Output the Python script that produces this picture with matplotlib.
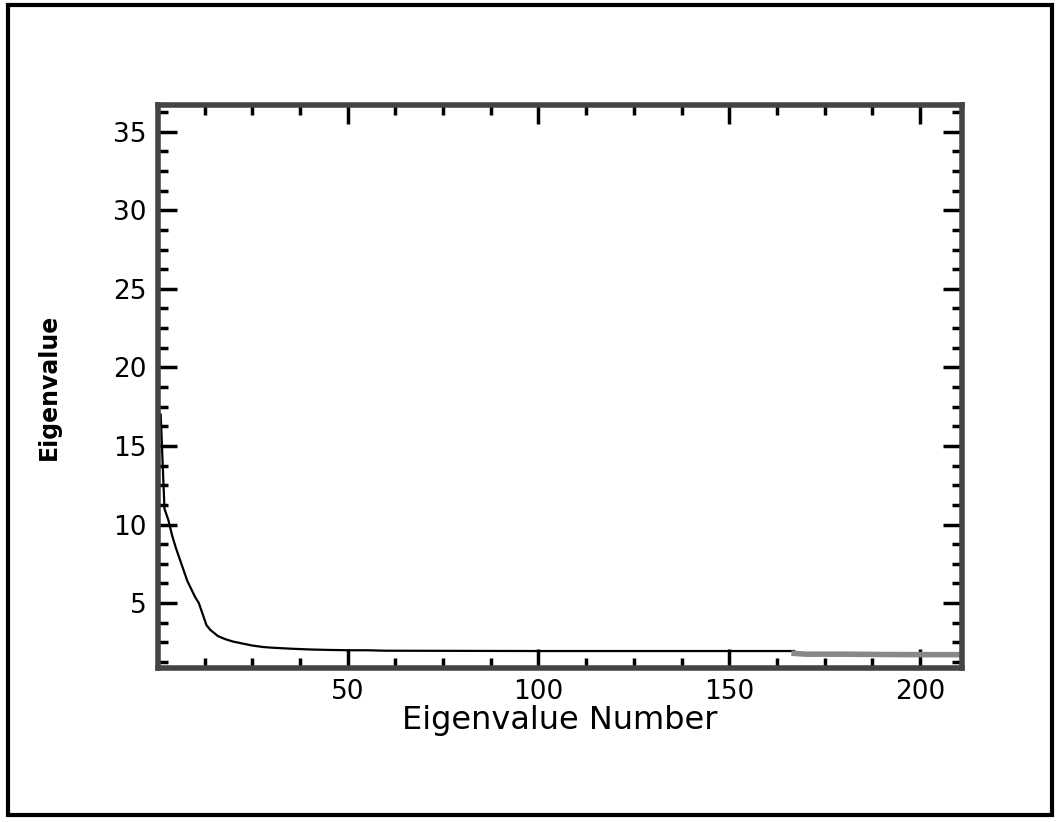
import matplotlib
matplotlib.use('Agg')
import matplotlib.pyplot as plt
from matplotlib.patches import Rectangle
from matplotlib.ticker import MultipleLocator

# --- data ---
eig_number = [1, 2, 3, 4, 5, 6, 7, 8, 9, 10, 11, 12, 13, 14, 15, 16, 18, 20,
              22, 25, 28, 31, 35, 40, 45, 50, 55, 60, 80, 100, 120, 140,
              160, 167]
eig_value = [17.0, 11.0, 10.3, 9.3, 8.5, 7.8, 7.1, 6.4, 5.9, 5.4, 5.0, 4.3,
             3.6, 3.3, 3.1, 2.9, 2.7, 2.55, 2.45, 2.3, 2.2, 2.15, 2.1, 2.05,
             2.02, 2.0, 2.0, 1.97, 1.96, 1.95, 1.95, 1.95, 1.95, 1.95]
tail_number = [167, 170, 180, 190, 200, 211]
tail_value = [1.8, 1.75, 1.75, 1.73, 1.72, 1.72]

x_ticks = [50, 100, 150, 200]
y_ticks = [5, 10, 15, 20, 25, 30, 35]

fig = plt.figure(figsize=(10.62, 8.22), dpi=100)
ax = fig.add_axes([158 / 1062, 1 - 668 / 822, (962 - 158) / 1062, (668 - 105) / 822])

ax.plot(eig_number, eig_value, color='black', lw=1.6)
ax.plot(tail_number, tail_value, color='#888888', lw=4)

ax.set_xlim(0.3, 211)
ax.set_ylim(0.87, 36.7)
ax.set_xticks(x_ticks)
ax.set_yticks(y_ticks)
ax.xaxis.set_minor_locator(MultipleLocator(12.5))
ax.yaxis.set_minor_locator(MultipleLocator(1.25))
ax.tick_params(which='both', direction='in', top=True, right=True,
               width=2.5, color='black', labelsize=19, pad=8)
ax.tick_params(which='major', length=14)
ax.tick_params(which='minor', length=7)
for s in ax.spines.values():
    s.set_linewidth(4)
    s.set_color('#444444')

ax.set_xlabel('Eigenvalue Number', fontsize=23, labelpad=0)
ax.set_ylabel('Eigenvalue', fontsize=17, fontweight='bold', labelpad=38)

fig.patches.append(Rectangle((8 / 1062, 1 - 815 / 822), 1044 / 1062, 810 / 822,
                             transform=fig.transFigure, fill=False,
                             edgecolor='black', lw=3))

fig.savefig('out.png', dpi=100)
